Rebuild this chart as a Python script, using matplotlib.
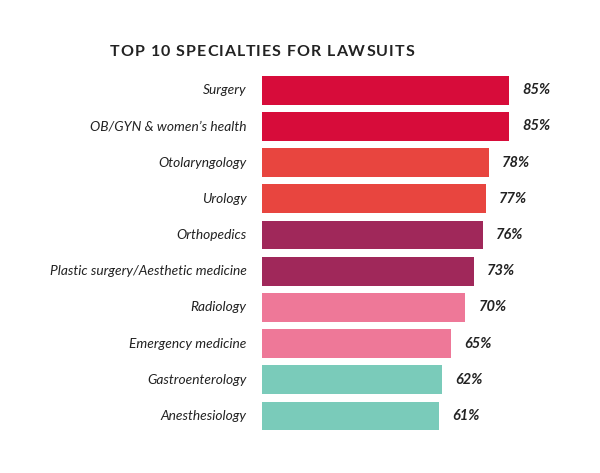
import matplotlib
matplotlib.use("Agg")
import matplotlib.pyplot as plt

SPECIALTIES = [
    "Surgery",
    "OB/GYN & women\u2019s health",
    "Otolaryngology",
    "Urology",
    "Orthopedics",
    "Plastic surgery/Aesthetic medicine",
    "Radiology",
    "Emergency medicine",
    "Gastroenterology",
    "Anesthesiology",
]
PERCENT = [85, 85, 78, 77, 76, 73, 70, 65, 62, 61]
COLORS = ["#D70C3A", "#D70C3A", "#E8453F", "#E8453F", "#A0285A",
          "#A0285A", "#EE7898", "#EE7898", "#7ACBBA", "#7ACBBA"]
TITLE = "TOP 10 SPECIALTIES FOR LAWSUITS"

INK = "#222222"
FONT = "Lato"

fig = plt.figure(figsize=(6.0, 4.73), dpi=100, facecolor="white")
ax = fig.add_axes([262 / 600, 1 - 434.1 / 473, 338 / 600, 362 / 473])

ypos = list(range(len(SPECIALTIES)))
ax.barh(ypos, PERCENT, height=0.8, color=COLORS, edgecolor="none")
ax.set_ylim(len(SPECIALTIES) - 0.5, -0.5)
ax.set_xlim(0, 338 / 2.906)

for y, lbl, v in zip(ypos, SPECIALTIES, PERCENT):
    ax.text(-5.3, y, lbl, ha="right", va="center", fontsize=9.9,
            style="italic", color=INK, family=FONT)
    ax.text(v + 4.5, y, f"{v}%", ha="left", va="center", fontsize=10.5,
            style="italic", fontweight="bold", color=INK, family=FONT)

ax.axis("off")

# letter-spaced title, drawn one character at a time
renderer = fig.canvas.get_renderer()
x = 110.0
tracking = 1.0  # px between letters
for ch in TITLE:
    t = fig.text(x / 600, 1 - 52 / 473, ch, ha="left", va="center",
                 fontsize=11.5, fontweight="bold", color=INK, family=FONT)
    if ch == " ":
        w = 4.0
    else:
        w = t.get_window_extent(renderer).width
    x += w + tracking

fig.savefig("out.png", dpi=100, facecolor="white")
